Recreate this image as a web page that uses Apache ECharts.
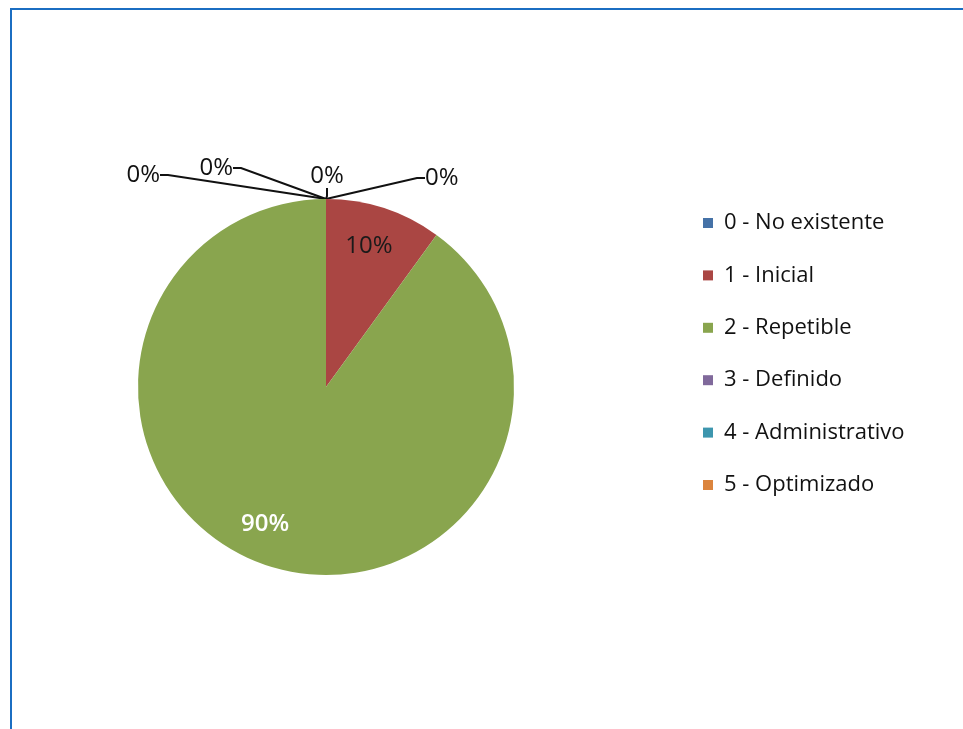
<!DOCTYPE html>
<html><head><meta charset="utf-8">
<script src="https://cdn.jsdelivr.net/npm/echarts@6/dist/echarts.min.js"></script>
<style>
html,body{margin:0;padding:0;background:#fff;overflow:hidden;}
#c{position:absolute;left:0;top:0;width:963px;height:729px;}
#frame{position:absolute;left:10px;top:8px;width:1000px;height:800px;border-top:2px solid #1B6EC2;border-left:2px solid #1B6EC2;pointer-events:none;}
</style></head>
<body><div id="c"></div><div id="frame"></div>
<script>
// ---- data ----
const categories = ['0 - No existente', '1 - Inicial', '2 - Repetible', '3 - Definido', '4 - Administrativo', '5 - Optimizado'];
const values = [0, 1, 9, 0, 0, 0];

// ---- styles ----
const palette = ['#4572A7', '#AA4643', '#89A54E', '#80699B', '#3D96AE', '#DB843D'];
const insideLabelStyle = {
  1: {color: '#1a1a1a', fontWeight: 'normal', offset: [-4, 4]},
  2: {color: '#ffffff', fontWeight: 600, offset: [-14, -7]}
};
const zeroLabelPlace = {
  0: {x: 425, y: 178, align: 'left'},
  3: {x: 327, y: 176, align: 'center'},
  4: {x: 233, y: 168, align: 'right'},
  5: {x: 160, y: 175, align: 'right'}
};
const FONT = '"Open Sans", sans-serif';
const CENTER = [326, 387];
const R = 188;

const total = values.reduce((a, b) => a + b, 0);
const pct = v => Math.round(v / total * 100) + '%';

const chart = echarts.init(document.getElementById('c'), null, {renderer: 'canvas'});

const mainData = categories.map((name, i) => ({
  name, value: values[i],
  label: {show: values[i] === 0},
  labelLine: {show: values[i] === 0}
}));
const overlayData = categories.map((name, i) => ({
  name, value: values[i],
  label: Object.assign({show: values[i] !== 0}, insideLabelStyle[i] || {})
}));

chart.setOption({
  animation: false,
  color: palette,
  legend: {
    orient: 'vertical',
    left: 698,
    top: 207,
    icon: 'rect',
    itemWidth: 10,
    itemHeight: 10,
    itemGap: 30.4,
    selectedMode: false,
    data: categories,
    textStyle: {fontFamily: FONT, fontSize: 22, color: '#111', lineHeight: 22, padding: [0, 0, 0, 6]}
  },
  series: [
    {
      type: 'pie',
      center: CENTER,
      radius: R,
      startAngle: 90,
      clockwise: true,
      avoidLabelOverlap: false,
      stillShowZeroSum: true,
      silent: true,
      emphasis: {disabled: true},
      itemStyle: {borderWidth: 0},
      label: {
        position: 'outside',
        fontFamily: FONT, fontSize: 24, color: '#111',
        formatter: p => pct(p.value)
      },
      labelLine: {length: 10, length2: 8, smooth: false, lineStyle: {color: '#111', width: 2}},
      labelLayout: function (params) {
        const p = zeroLabelPlace[params.dataIndex];
        if (!p) return {};
        return {x: p.x, y: p.y, align: p.align, verticalAlign: 'middle'};
      },
      data: mainData
    },
    {
      type: 'pie',
      center: CENTER,
      radius: [110, R],
      startAngle: 90,
      clockwise: true,
      silent: true,
      emphasis: {disabled: true},
      itemStyle: {color: 'rgba(0,0,0,0)', borderWidth: 0},
      label: {
        position: 'inside',
        fontFamily: FONT, fontSize: 24,
        formatter: p => pct(p.value)
      },
      labelLine: {show: false},
      data: overlayData
    }
  ]
});
</script>
</body></html>
